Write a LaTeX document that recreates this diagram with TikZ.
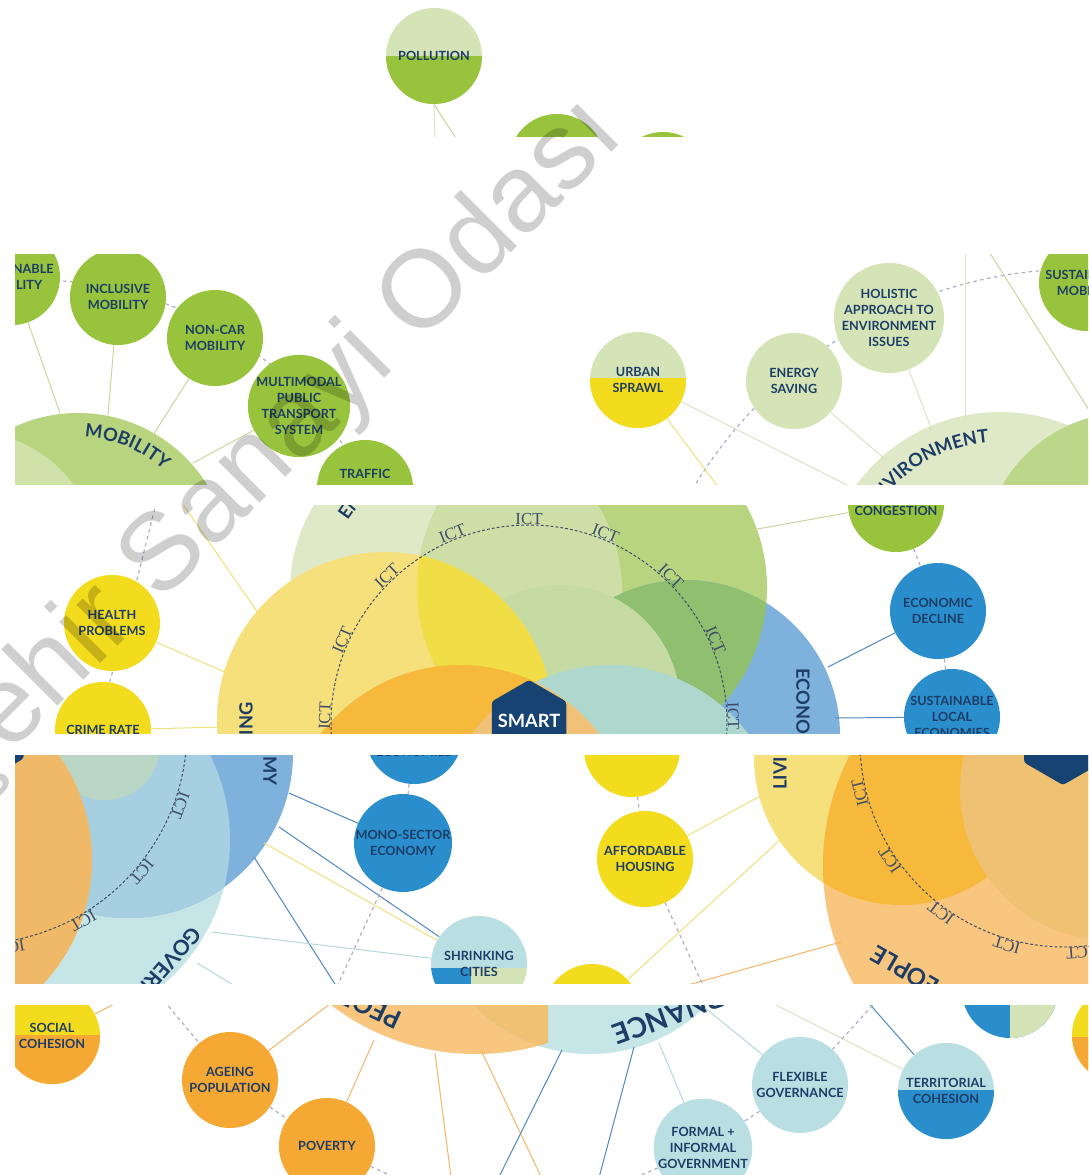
\documentclass[tikz,border=0pt]{standalone}
\usepackage{fontspec}
\setmainfont{Lato}
\newfontfamily\ictface{Liberation Serif}
\newfontfamily\wmface{Liberation Sans}
\usetikzlibrary{shapes.geometric}
\usetikzlibrary{decorations.text}

\definecolor{navy}{HTML}{1D3D66}
\definecolor{hexnavy}{HTML}{174372}
\definecolor{leaf}{HTML}{98C33D}
\definecolor{sage}{HTML}{D5E4B6}
\definecolor{sun}{HTML}{F3DB1D}
\definecolor{amber}{HTML}{F5A833}
\definecolor{ocean}{HTML}{2A8ECD}
\definecolor{mist}{HTML}{B9DFE2}
% big circles
\definecolor{envbig}{HTML}{DFE9C8}
\definecolor{mobbig}{HTML}{B8D47F}
\definecolor{mobpale}{HTML}{CFE2A9}
\definecolor{mobsoft}{HTML}{BCD68A}
\definecolor{envmob}{HTML}{CDDFA6}
\definecolor{midpale}{HTML}{C6DBA4}
\definecolor{livbig}{HTML}{F5E07C}
\definecolor{livmob}{HTML}{F1DD45}
\definecolor{ecobig}{HTML}{7EB2DC}
\definecolor{ecomob}{HTML}{90BF70}
\definecolor{peobig}{HTML}{F6B93C}
\definecolor{peomid}{HTML}{F0B968}
\definecolor{peopale}{HTML}{F8C67E}
\definecolor{peotan}{HTML}{EFC173}
\definecolor{govbig}{HTML}{C6E5E7}
\definecolor{govteal}{HTML}{AED8CD}
\definecolor{ecogov}{HTML}{A7CFE2}
\definecolor{peogov}{HTML}{F0C176}
\definecolor{tealgreen}{HTML}{B9D7C4}
% connectors
\definecolor{moblink}{HTML}{CDD49B}
\definecolor{livlink}{HTML}{EEE07A}
\definecolor{envlink}{HTML}{DCE2C2}
\definecolor{ecolink}{HTML}{4E86C4}
\definecolor{peolink}{HTML}{F3B565}
\definecolor{govlink}{HTML}{B3D8DB}
\definecolor{ringgray}{HTML}{A9ABC4}
\definecolor{ictgray}{HTML}{3E4C68}

\newcommand{\lbl}{\fontsize{9}{11.3}\selectfont\bfseries}
\newcommand{\biglbl}{\fontsize{13}{15}\selectfont\bfseries}
\newcommand{\ictlbl}{\fontsize{12}{14}\selectfont\ictface}
\newcommand{\sizedlbl}[1]{\fontsize{#1}{#1}\selectfont\bfseries}

\tikzset{
  topic/.style={circle, minimum size=2.4cm, inner sep=0pt, align=center, text=navy, font=\lbl},
  halves/.style n args={3}{fill=#1, path picture={\fill[#2] ([yshift=#3]path picture bounding box.west) rectangle (path picture bounding box.south east);}},
  sides/.style 2 args={fill=#1, path picture={\fill[#2] (path picture bounding box.north) rectangle (path picture bounding box.south east);}},
  shrinkfill/.style={fill=mist, path picture={\fill[ocean] ([yshift=-0.1cm]path picture bounding box.west) rectangle ([xshift=-0.2cm]path picture bounding box.south);
      \fill[sage] ([xshift=-0.2cm,yshift=-0.1cm]path picture bounding box.center) rectangle (path picture bounding box.south east);}},
  tag/.style={text=navy, font=\lbl, inner sep=0pt},
  sectorlbl/.style={text=navy, font=\biglbl, inner sep=0pt},
  hexa/.style={regular polygon, regular polygon sides=6, shape border rotate=30, fill=hexnavy, inner sep=0pt, rounded corners=2pt},
  link/.style={draw=#1, line width=0.7pt},
  outerring/.style={draw=ringgray, line width=0.8pt, dash pattern=on 2.5pt off 2.5pt},
  ictring/.style={draw=ictgray, line width=0.7pt, dash pattern=on 2pt off 1.5pt},
  ict/.style={text=ictgray, font=\ictlbl, inner sep=0.3pt, anchor=south},
  arclabel/.style={decorate, decoration={text along path, text color=navy, text={|\biglbl|#1}}},
}

\begin{document}
\begin{tikzpicture}[x=0.025cm, y=-0.025cm]
    \useasboundingbox (0,0) rectangle (1088,1175);
    \fill[white] (0,0) rectangle (1088,1175);

    % strip 1
    \begin{scope}
        \clip (15,0) rectangle (1088,137);
        \node[topic, halves={sage}{leaf}{0pt}] (pollution) at (434,56) {POLLUTION};
        \node[topic, fill=leaf] (greenA) at (557,162) {};
        \node[topic, fill=leaf] (greenB) at (663,180) {};
        \coordinate (polA) at (435,140);
        \coordinate (polB) at (457,140);
        \draw[link=envlink] (pollution.south) -- (polA);
        \draw[link=moblink] (pollution.south) -- (polB);
    \end{scope}

    % strip 2: mobility and environment
    \begin{scope}
        \clip (15,255) rectangle (1088,484);
        \draw[outerring] (35,650) circle[radius=370];
        \fill[mobbig] (78,565) circle[radius=152];
        \fill[mobpale] (-30,560) circle[radius=128];
        \path[arclabel=MOBILITY] (78,565) ++(-87:128) arc[start angle=-87, end angle=-20, radius=128];

        \node[topic, fill=leaf] (sustmob) at (12,277) {SUSTAINABLE\\MOBILITY};
        \node[topic, fill=leaf] (inclusive) at (118,297) {INCLUSIVE\\MOBILITY};
        \node[topic, fill=leaf] (noncar) at (215,338) {NON-CAR\\MOBILITY};
        \node[topic, fill=leaf] (multimodal) at (299,406) {MULTIMODAL\\PUBLIC\\TRANSPORT\\SYSTEM};
        \node[topic, fill=leaf] (traffic) at (365,488) {};
        \node[tag] (traffic-t) at (365,474) {TRAFFIC};

        \coordinate (m1) at (60,413);
        \coordinate (m2) at (108,415);
        \coordinate (m3) at (153,435);
        \coordinate (m4) at (193,463);
        \draw[link=moblink] (sustmob) -- (m1);
        \draw[link=moblink] (inclusive) -- (m2);
        \draw[link=moblink] (noncar) -- (m3);
        \draw[link=moblink] (multimodal) -- (m4);

        \draw[outerring] (1080,720) circle[radius=451];
        \fill[envbig] (1000,590) circle[radius=178];
        \fill[mobsoft] (1130,560) circle[radius=148];
        \path[arclabel=ENVIRONMENT] (1000,590) ++(-147:148) arc[start angle=-147, end angle=-60, radius=148];

        \node[topic, halves={sage}{sun}{0.05cm}] (sprawl) at (638,380) {URBAN\\SPRAWL};
        \node[topic, fill=sage] (energy) at (794,381) {ENERGY\\SAVING};
        \node[topic, fill=sage] (holistic) at (889,318) {HOLISTIC\\APPROACH TO\\ENVIRONMENT\\ISSUES};
        \node[topic, fill=leaf] (sustmobR) at (1087,283) {SUSTAINABLE\\MOBILITY};

        \coordinate (e1) at (719,488);
        \coordinate (e2) at (853,488);
        \coordinate (e3) at (886,460);
        \coordinate (e4) at (933,433);
        \coordinate (e5) at (965,419);
        \coordinate (e6) at (965,250);
        \coordinate (e7) at (988,250);
        \coordinate (e8) at (1092,415);
        \draw[link=livlink] (sprawl) -- (e1);
        \draw[link=envlink] (sprawl) -- (e2);
        \draw[link=envlink] (energy) -- (e3);
        \draw[link=envlink] (holistic) -- (e4);
        \draw[link=envlink] (e6) -- (e5);
        \draw[link=moblink] (e7) -- (e8);
    \end{scope}

    % strip 3: the centre
    \begin{scope}
        \clip (15,505) rectangle (1088,733);
        \draw[outerring] (158,495) .. controls (142,560) and (125,630) .. (92,745);
        \fill[envbig] (456,591) circle[radius=166];
        \fill[mobbig] (592,588) circle[radius=175];
        \begin{scope}
            \clip (456,591) circle[radius=166];
            \fill[envmob] (592,588) circle[radius=175];
        \end{scope}
        \fill[ecobig] (685,735) circle[radius=155];
        \begin{scope}
            \clip (592,588) circle[radius=175];
            \fill[ecomob] (685,735) circle[radius=155];
            \fill[midpale] (560,705) circle[radius=120];
        \end{scope}
        \fill[livbig] (385,720) circle[radius=168];
        \begin{scope}
            \clip (592,588) circle[radius=175];
            \fill[livmob] (385,720) circle[radius=168];
        \end{scope}
        \fill[peobig] (460,840) circle[radius=175];
        \fill[govteal] (610,838) circle[radius=173];
        \begin{scope}
            \clip (460,840) circle[radius=175];
            \fill[peogov] (610,838) circle[radius=173];
        \end{scope}
        \path[arclabel=ENVIRONMENT] (456,591) ++(-147:129) arc[start angle=-147, end angle=-40, radius=129];

        \draw[ictring] (529,723) circle[radius=198];
        \foreach \a in {2,24,...,178}
            \path (529,723) ++(-\a:198) node[ict, rotate=\a-90] {ICT};
        \node[hexa, minimum size=2.15cm] (smart) at (529,723) {};
        \node[text=white, font=\biglbl, inner sep=0pt] (smart-t) at (529,721) {SMART};
        \node[sectorlbl, rotate=90, anchor=east] (living-t) at (246,702) {LIVING};
        \node[sectorlbl, rotate=-90, anchor=west] (economy-t) at (803,668) {ECONOMY};

        \node[topic, fill=sun] (health) at (112,623) {HEALTH\\PROBLEMS};
        \node[topic, fill=sun] (crime) at (103,730) {CRIME RATE};
        \node[topic, fill=leaf] (congestion) at (896,504) {};
        \node[tag] (congestion-t) at (896,511) {CONGESTION};
        \node[topic, fill=ocean] (decline) at (938,611) {ECONOMIC\\DECLINE};
        \node[topic, fill=ocean] (sustlocal) at (952,717) {SUSTAINABLE\\LOCAL\\ECONOMIES};

        \coordinate (l0) at (180,500);
        \coordinate (l1) at (258,613);
        \coordinate (l2) at (227,673);
        \coordinate (l3) at (222,727);
        \coordinate (b1) at (752,530);
        \coordinate (c1) at (828,667);
        \coordinate (c2) at (835,718);
        \draw[link=livlink] (l0) -- (l1);
        \draw[link=livlink] (health) -- (l2);
        \draw[link=livlink] (crime) -- (l3);
        \draw[link=moblink] (b1) -- (congestion);
        \draw[link=ecolink] (c1) -- (decline);
        \draw[link=ecolink] (c2) -- (sustlocal);
        \draw[outerring] (congestion) -- (decline);
        \draw[outerring] (decline) -- (sustlocal);
    \end{scope}

    % strip 4: economy, governance, living, people
    \begin{scope}
        \clip (15,755) rectangle (1088,983);
        \fill[govbig] (40,840) circle[radius=190];
        \fill[ecobig] (128,753) circle[radius=165];
        \begin{scope}
            \clip (40,840) circle[radius=190];
            \fill[ecogov] (128,753) circle[radius=165];
        \end{scope}
        \fill[tealgreen] (105,745) circle[radius=55];
        \fill[peomid] (-90,860) circle[radius=182];
        \draw[ictring] (-27,730) circle[radius=214];
        \foreach \a in {0,20,...,80}
            \path (-27,730) ++(\a:214) node[ict, rotate=-\a-90] {ICT};
        \node[hexa, minimum size=2.35cm] (smartL) at (-17,735) {};
        \node[sectorlbl, rotate=-90, anchor=east] (economy-b) at (270,786) {ECONOMY};
        \node[sectorlbl, font=\sizedlbl{15}, rotate=-131, anchor=west] (governance-t) at (197,930) {GOVERNANCE};

        \node[topic, fill=ocean] (sustlocalB) at (414,736) {SUSTAINABLE\\LOCAL\\ECONOMIES};
        \node[topic, fill=ocean] (monosector) at (403,843) {MONO-SECTOR\\ECONOMY};
        \node[topic, shrinkfill] (shrinking) at (479,964) {SHRINKING\\CITIES};

        \coordinate (k1) at (289,793);
        \coordinate (k2) at (279,827);
        \coordinate (k3) at (264,843);
        \coordinate (k4) at (254,857);
        \coordinate (k5) at (340,992);
        \coordinate (k6) at (212,932);
        \coordinate (k7) at (197,963);
        \coordinate (k8) at (245,992);
        \coordinate (k9) at (333,995);
        \draw[link=ecolink] (k1) -- (monosector);
        \draw[link=ecolink] (k2) -- (shrinking);
        \draw[link=livlink] (k3) -- (shrinking);
        \draw[link=ecolink] (k4) -- (k5);
        \draw[link=govlink] (k6) -- (shrinking);
        \draw[link=govlink] (k7) -- (k8);
        \draw[outerring] (sustlocalB) -- (monosector);
        \draw[outerring] (monosector) -- (k9);

        \fill[livbig] (901,758) circle[radius=147];
        \fill[peopale] (1065,866) circle[radius=242];
        \begin{scope}
            \clip (1065,866) circle[radius=242];
            \fill[peobig] (901,758) circle[radius=147];
            \fill[peotan] (1110,790) circle[radius=150];
        \end{scope}
        \draw[ictring] (1065,742) circle[radius=205];
        \foreach \a in {194,214,...,274}
            \path (1065,742) ++(-\a:205) node[ict, rotate=\a-90] {ICT};
        \node[hexa, minimum size=2.25cm] (smartR) at (1063,740) {};
        \node[sectorlbl, rotate=90, anchor=west] (living-b) at (780,790) {LIVING};
        \node[sectorlbl, font=\sizedlbl{17}, rotate=150, anchor=east] (people-t) at (873,952) {PEOPLE};

        \node[topic, fill=sun] (yellowtop) at (632,749) {};
        \node[topic, fill=sun] (housing) at (645,859) {AFFORDABLE\\HOUSING};
        \node[topic, fill=sun] (yellowlow) at (592,1012) {};

        \coordinate (r1) at (762,795);
        \coordinate (r2) at (780,840);
        \coordinate (r3) at (841,942);
        \coordinate (r4) at (706,992);
        \draw[link=livlink] (housing) -- (r1);
        \draw[link=livlink] (yellowlow) -- (r2);
        \draw[link=peolink] (yellowlow) -- (r3);
        \draw[outerring] (yellowtop) -- (housing);
        \draw[outerring] (housing) -- (r4);
    \end{scope}

    % strip 5: people and governance
    \begin{scope}
        \clip (15,1005) rectangle (1088,1175);
        \fill[peopale] (476,815) circle[radius=239];
        \fill[govbig] (590,890) circle[radius=164];
        \begin{scope}
            \clip (476,815) circle[radius=239];
            \clip (0,990) rectangle (548,1060);
            \fill[peotan] (590,890) circle[radius=164];
        \end{scope}
        \node[sectorlbl, font=\sizedlbl{18}, rotate=155, anchor=west] (people-b) at (400,1022) {PEOPLE};
        \node[sectorlbl, font=\sizedlbl{20}, rotate=200, anchor=east] (governance-b) at (614,1036) {GOVERNANCE};

        \node[topic, halves={sun}{amber}{0.025cm}] (cohesion) at (52,1036) {SOCIAL\\COHESION};
        \node[topic, fill=amber] (ageing) at (230,1080) {AGEING\\POPULATION};
        \node[topic, fill=amber] (poverty) at (327,1146) {POVERTY};
        \node[topic, fill=mist] (flexible) at (800,1085) {FLEXIBLE\\GOVERNANCE};
        \node[topic, fill=mist] (formal) at (703,1148) {FORMAL +\\INFORMAL\\GOVERNMENT};
        \node[topic, halves={mist}{ocean}{0.025cm}] (territorial) at (946,1091) {TERRITORIAL\\COHESION};
        \node[topic, sides={ocean}{sage}] (bluesage) at (1010,990) {};
        \node[topic, halves={sun}{amber}{-0.05cm}] (edgenode) at (1120,1035) {};

        \coordinate (s1) at (122,1000);
        \coordinate (s2) at (331,1003);
        \coordinate (s3) at (374,1040);
        \coordinate (s4) at (435,1053);
        \coordinate (s5) at (452,1185);
        \coordinate (s6) at (481,1050);
        \coordinate (s7) at (545,1185);
        \coordinate (s8) at (562,1050);
        \coordinate (s9) at (495,1185);
        \coordinate (s10) at (634,1047);
        \coordinate (s11) at (597,1185);
        \coordinate (s12) at (659,1043);
        \coordinate (s13) at (705,1008);
        \coordinate (s14) at (766,1000);
        \coordinate (s15) at (866,1000);
        \coordinate (s16) at (155,990);
        \coordinate (s17) at (400,1180);
        \coordinate (s18) at (882,995);
        \coordinate (s19) at (630,1180);
        \draw[link=peolink] (cohesion) -- (s1);
        \draw[link=peolink] (s2) -- (ageing);
        \draw[link=peolink] (s3) -- (poverty);
        \draw[link=peolink] (s4) -- (s5);
        \draw[link=peolink] (s6) -- (s7);
        \draw[link=ecolink] (s8) -- (s9);
        \draw[link=ecolink] (s10) -- (s11);
        \draw[link=govlink] (s12) -- (formal);
        \draw[link=govlink] (s13) -- (flexible);
        \draw[link=envlink] (s14) -- (territorial);
        \draw[link=ecolink] (s15) -- (territorial);
        \draw[outerring] (s16) -- (ageing);
        \draw[outerring] (ageing) -- (poverty);
        \draw[outerring] (poverty) -- (s17);
        \draw[outerring] (s18) -- (flexible);
        \draw[outerring] (flexible) -- (formal);
        \draw[outerring] (formal) -- (s19);
    \end{scope}

    % watermark
    \node[rotate=45, text=black, opacity=0.19, font=\wmface\fontsize{78}{86}\selectfont] (watermark) at (205,519) {Eskişehir Sanayi Odası};
\end{tikzpicture}
\end{document}
